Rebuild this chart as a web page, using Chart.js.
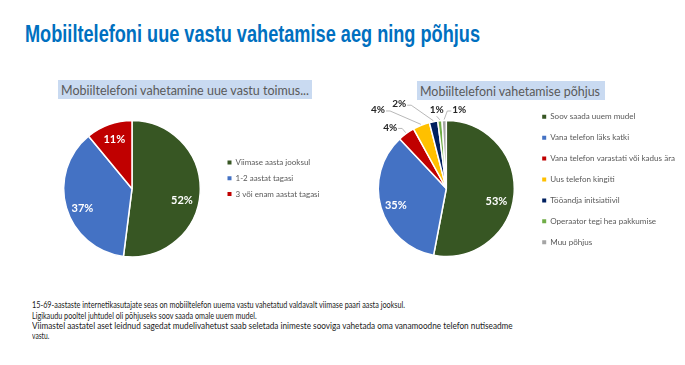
<!DOCTYPE html>
<html>
<head>
<meta charset="utf-8">
<script src="https://cdn.jsdelivr.net/npm/chart.js@4.4.0/dist/chart.umd.min.js"></script>
<style>
  body { margin: 0; width: 685px; height: 365px; background: #fff; position: relative; overflow: hidden; font-family: Lato, "Open Sans", sans-serif; }
  .fit { position: absolute; white-space: nowrap; transform-origin: 0 50%; }
  #title { left: 25px; top: 21px; line-height: 26px; font: bold 23px "Liberation Sans Narrow", "Liberation Sans", Arial, sans-serif; color: #0070c0; }
  .box { position: absolute; background: #c9daf1; }
  .box span { position: absolute; top: 0; line-height: 19px; font-size: 14px; color: #595959; white-space: nowrap; transform-origin: 0 50%; }
  .txt { font-size: 10px; line-height: 11px; color: #1a1a1a; left: 32px; }
  canvas { position: absolute; }
</style>
</head>
<body>
<div id="title" class="fit">Mobiiltelefoni uue vastu vahetamise aeg ning põhjus</div>

<div class="box" style="left:58px;top:80px;width:254px;height:19px"><span id="sub1" style="left:2.7px">Mobiiltelefoni vahetamine uue vastu toimus...</span></div>
<div class="box" style="left:417px;top:81px;width:188px;height:18.5px"><span id="sub2" style="left:3px">Mobiiltelefoni vahetamise põhjus</span></div>

<canvas id="timeChart" width="340" height="180" style="left:0;top:90px"></canvas>
<canvas id="reasonChart" width="340" height="180" style="left:345px;top:90px"></canvas>

<div id="t1" class="fit txt" style="top:298.5px">15-69-aastaste internetikasutajate seas on mobiiltelefon uuema vastu vahetatud valdavalt viimase paari aasta jooksul.</div>
<div id="t2" class="fit txt" style="top:309.5px">Ligikaudu pooltel juhtudel oli põhjuseks soov saada omale uuem mudel.</div>
<div id="t3" class="fit txt" style="top:319.8px">Viimastel aastatel aset leidnud sagedat mudelivahetust saab seletada inimeste sooviga vahetada oma vanamoodne telefon nutiseadme</div>
<div id="t4" class="fit txt" style="top:330.2px">vastu.</div>

<script>
// left chart: when was the phone replaced
const timeLabels = ['Viimase aasta jooksul', '1-2 aastat tagasi', '3 või enam aastat tagasi'];
const timeValues = [52, 37, 11];
const timeColors = ['#375623', '#4472c4', '#c00000'];

// right chart: reason for replacing
const reasonLabels = ['Soov saada uuem mudel', 'Vana telefon läks katki', 'Vana telefon varastati või kadus ära',
  'Uus telefon kingiti', 'Tööandja initsiatiivil', 'Operaator tegi hea pakkumise', 'Muu põhjus'];
const reasonValues = [53, 35, 4, 4, 2, 1, 1];
const reasonColors = ['#375623', '#4472c4', '#c00000', '#ffc000', '#002060', '#70ad47', '#a5a5a5'];

const BORDER = 1.5;
const BOX = 4;

// percent labels, placed like excel did (angle from top, distance in radii)
const pctLabels = {
  id: 'pctLabels',
  afterDatasetsDraw(chart, args, opts) {
    const ctx = chart.ctx;
    const values = chart.data.datasets[0].data;
    const total = values.reduce((a, b) => a + b, 0);
    chart.getDatasetMeta(0).data.forEach((arc, i) => {
      const p = arc.getProps(['x', 'y', 'startAngle', 'endAngle', 'outerRadius'], true);
      const place = opts.place[i];
      const txt = Math.round(values[i] / total * 100) + '%';
      const a = (place.angle - 90) * Math.PI / 180;
      const lx = p.x + Math.cos(a) * p.outerRadius * place.dist;
      const ly = p.y + Math.sin(a) * p.outerRadius * place.dist;
      ctx.save();
      ctx.textAlign = 'center';
      ctx.textBaseline = 'middle';
      if (!place.outside) {
        ctx.font = 'bold 11px Lato';
        ctx.fillStyle = '#fff';
        ctx.fillText(txt, lx, ly);
      } else {
        ctx.font = 'bold 10px Lato';
        const w = ctx.measureText(txt).width;
        const mid = (p.startAngle + p.endAngle) / 2;
        const ax = p.x + Math.cos(mid) * (p.outerRadius + 1);
        const ay = p.y + Math.sin(mid) * (p.outerRadius + 1);
        let sx, sy, ex, ey;
        if (ax > lx + w / 2 + 2) {
          sx = lx + w / 2 + 1; sy = ly + 1; ex = sx + 4; ey = sy;
        } else if (ax < lx - w / 2 - 2) {
          sx = lx - w / 2 - 1; sy = ly + 1; ex = sx - 4; ey = sy;
        } else {
          sx = ex = lx; sy = ey = ly + 6;
        }
        ctx.strokeStyle = '#a6a6a6';
        ctx.lineWidth = 0.8;
        ctx.beginPath();
        ctx.moveTo(sx, sy);
        ctx.lineTo(ex, ey);
        ctx.lineTo(ax, ay);
        ctx.stroke();
        ctx.fillStyle = '#262626';
        ctx.fillText(txt, lx, ly);
      }
      ctx.restore();
    });
  }
};

const measureCtx = document.createElement('canvas').getContext('2d');
function textWidth(str, size) {
  measureCtx.font = size + 'px Lato';
  return measureCtx.measureText(str).width;
}

// work out layout padding so the pie and the legend land where they are in the picture.
// g: all in canvas pixels
function pieLayout(labels, g) {
  const longest = labels.reduce((a, b) => textWidth(a, 9) > textWidth(b, 9) ? a : b);
  const fs = 9 * g.textW / textWidth(longest, 9);
  const gap = g.rowStep - fs;
  const h = 2 * g.r + BORDER;
  const top = g.cy - h / 2, bottom = g.cy + h / 2;
  const colH = labels.length * g.rowStep;
  const sum = 2 * (g.rowY0 - fs / 2) - gap + colH;
  let T, B;
  if (sum - bottom <= top) { T = sum - bottom; B = bottom; } else { T = top; B = sum - top; }
  const need = (labels.length - 1) * g.rowStep + fs + 2 * gap + 3;
  if (B - T < need) { const e = (need - (B - T)) / 2; T -= e; B += e; }
  const legendLeft = g.boxX - gap;
  const legendW = gap + BOX + fs / 2 + textWidth(longest, fs) + 10;
  return {
    fs, gap,
    padding: { left: 2 * g.cx - legendLeft, right: g.W - legendLeft - legendW, top: T, bottom: g.H - B },
    top: top - T, bottom: B - bottom
  };
}

function pieChart(id, labels, values, colors, g, place) {
  const lay = pieLayout(labels, g);
  return new Chart(document.getElementById(id), {
    type: 'pie',
    data: {
      labels: labels,
      datasets: [{ data: values, backgroundColor: colors, borderColor: '#fff', borderWidth: BORDER, hoverOffset: 0 }]
    },
    options: {
      responsive: false,
      animation: false,
      events: [],
      layout: { padding: lay.padding },
      plugins: {
        // empty title/subtitle are only spacers so the legend can sit higher than the pie
        title: { display: lay.top > 0.01, text: '', fullSize: false, padding: 0, font: { size: Math.max(lay.top, 1), lineHeight: 1 } },
        subtitle: { display: lay.bottom > 0.01, text: '', position: 'bottom', fullSize: false, padding: 0, font: { size: Math.max(lay.bottom, 1), lineHeight: 1 } },
        legend: {
          position: 'right',
          align: 'center',
          labels: {
            boxWidth: BOX,
            boxHeight: BOX,
            padding: lay.gap,
            color: '#595959',
            font: { family: 'Lato', size: lay.fs },
            generateLabels: (chart) => Chart.overrides.doughnut.plugins.legend.labels.generateLabels(chart)
              .map(l => Object.assign(l, { lineWidth: 0 }))
          }
        },
        tooltip: { enabled: false },
        pctLabels: { place: place }
      }
    },
    plugins: [pctLabels]
  });
}

// canvases start at page y=90; left one at x=0, right one at x=345
pieChart('timeChart', timeLabels, timeValues, timeColors,
  { W: 340, H: 180, cx: 132, cy: 98.7, r: 68.3, boxX: 227.5, rowY0: 72.6, rowStep: 15.7, textW: 84 },
  [
    { angle: 102.7, dist: 0.75 },
    { angle: 248.6, dist: 0.78 },
    { angle: 340.4, dist: 0.77 }
  ]);

pieChart('reasonChart', reasonLabels, reasonValues, reasonColors,
  { W: 340, H: 180, cx: 101.3, cy: 98.5, r: 68, boxX: 197.2, rowY0: 26.7, rowStep: 20.93, textW: 125 },
  [
    { angle: 104, dist: 0.76 },
    { angle: 251.2, dist: 0.785 },
    { angle: 317.4, dist: 1.22, outside: true },
    { angle: 319, dist: 1.53, outside: true },
    { angle: 330.8, dist: 1.42, outside: true },
    { angle: 353, dist: 1.16, outside: true },
    { angle: 9.4, dist: 1.17, outside: true }
  ]);

// squeeze texts to the widths seen in the picture
function fitText(id, w) {
  const el = document.getElementById(id);
  el.style.transform = '';
  el.style.transform = 'scaleX(' + (w / el.getBoundingClientRect().width) + ')';
}
fitText('title', 455);
fitText('sub1', 248);
fitText('sub2', 180);
fitText('t1', 373);
fitText('t2', 224.7);
fitText('t3', 480.7);
fitText('t4', 17.3);
</script>
</body>
</html>
